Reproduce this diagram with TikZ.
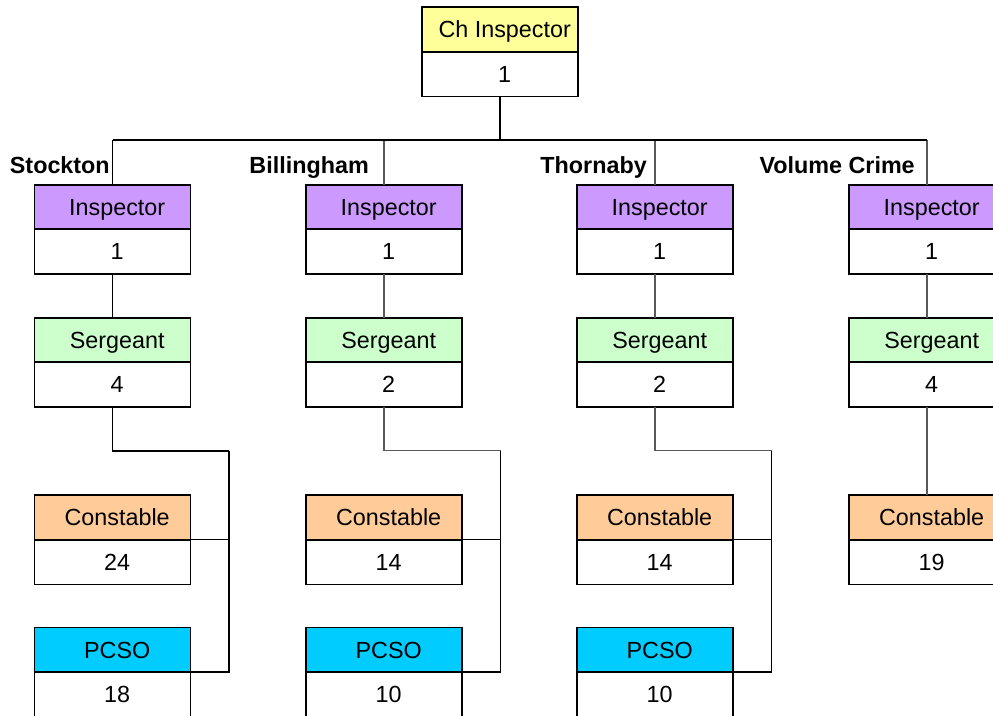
\documentclass[tikz,border=0pt]{standalone}
\usepackage{fontspec}
\setmainfont{Liberation Sans}
\usetikzlibrary{positioning,calc}

\definecolor{chief}{HTML}{FFFF99}
\definecolor{insp}{HTML}{CC99FF}
\definecolor{sgt}{HTML}{CCFFCC}
\definecolor{const}{HTML}{FFCC99}
\definecolor{pcso}{HTML}{00CCFF}

\begin{document}
\begin{tikzpicture}[x=0.75pt, y=-0.75pt,
    head/.style={draw, line width=1.2pt, fill=#1, minimum width=117pt, minimum height=33.4pt,
      inner sep=0pt, outer sep=0pt, text depth=0pt, font=\fontsize{17.5}{20}\selectfont,
      execute at begin node={\hspace*{7pt}}},
    count/.style={head=white},
    place/.style={anchor=base east, inner sep=0pt, font=\bfseries\fontsize{17.5}{20}\selectfont},
    link/.style={line width=1.2pt},
    thin/.style={line width=0.8pt, black!65}]
  \useasboundingbox (0,0) rectangle (993,715);
  \clip (0,0) rectangle (993,715);

  \node[head=chief] (ch) at (500,29.5) {Ch Inspector};
  \node[count, below=0pt of ch] (chn) {1};
  \coordinate (bus) at (500,140);

  \foreach \n/\x/\t/\tx/\s/\c/\w in {st/112.5/Stockton/110/4/24/link,
      bi/384/Billingham/369/2/14/thin, th/655/Thornaby/647/2/14/thin,
      vc/927/Volume Crime/915/4/19/thin}{
    \node[place] (\n-t) at (\tx,173) {\t};
    \node[head=insp] (\n-i) at (\x,207) {Inspector};
    \node[count, below=0pt of \n-i] (\n-in) {1};
    \node[head=sgt] (\n-s) at (\x,340) {Sergeant};
    \node[count, below=0pt of \n-s] (\n-sn) {\s};
    \node[head=const] (\n-c) at (\x,517.5) {Constable};
    \node[count, below=0pt of \n-c] (\n-cn) {\c};
    \draw[\w] (\n-i.north) -- (\n-i.north |- bus);
    \draw[\w] (\n-in.south) -- (\n-s.north);
  }

  \foreach \n/\p/\w in {st/18/link, bi/10/thin, th/10/thin}{
    \node[head=pcso, below=32.5pt of \n-cn] (\n-p) {PCSO};
    \node[count, below=0pt of \n-p] (\n-pn) {\p};
    \coordinate (\n-r) at ($(\n-sn.south)+(116.5,44)$);
    \draw[\w] (\n-sn.south) |- (\n-r);
    \draw[link] (\n-r) |- (\n-p.south east);
    \draw[thin, black] (\n-c.south east) -- (\n-c.south east -| \n-r);
  }
  \draw[thin] (vc-sn.south) -- (vc-c.north);

  \draw[link] (chn.south) -- (bus);
  \draw[link] (st-i.north |- bus) -- (vc-i.north |- bus);
\end{tikzpicture}
\end{document}
